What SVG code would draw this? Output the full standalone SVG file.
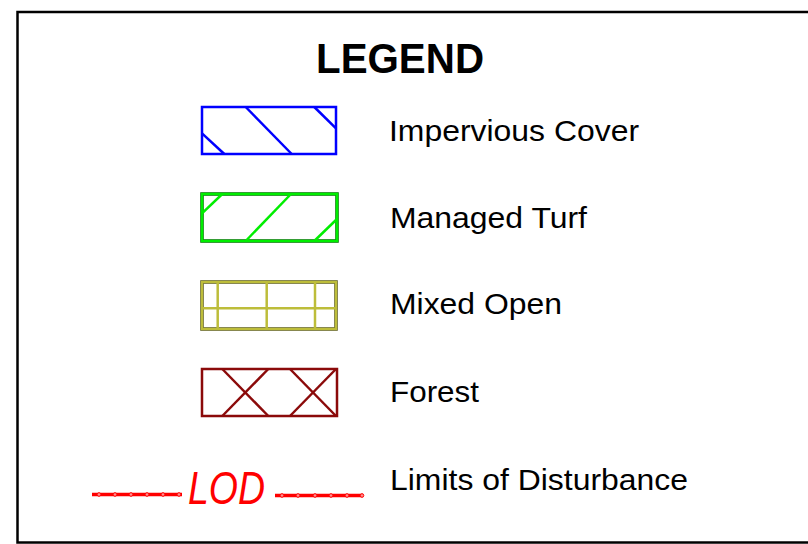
<svg xmlns="http://www.w3.org/2000/svg" width="808" height="544" viewBox="0 0 808 544">
<style>
.lbl{font-family:"Liberation Sans",Arial,sans-serif;font-size:30px;fill:#000}
.ttl{font-family:"Liberation Sans",Arial,sans-serif;font-size:43px;font-weight:bold;fill:#000}
.box{fill:#fff}
.imp{stroke:#0000ff;stroke-width:2.5;fill:none}
.turf{stroke:#00ee00;stroke-width:2.5;fill:none}
.mix{stroke:#bdbd3a;stroke-width:2.5;fill:none}
.for{stroke:#8b0a0a;stroke-width:2.5;fill:none}
.lod{stroke:#ff0000;stroke-width:3.5;fill:none}
.dot{stroke:#ff0000;stroke-width:1;fill:#ff9090}
</style>
<rect x="0" y="0" width="808" height="544" fill="#fff"/>
<rect x="17.5" y="12" width="800" height="530.5" fill="none" stroke="#000" stroke-width="2.5"/>
<text class="ttl" x="316" y="73" textLength="168" lengthAdjust="spacingAndGlyphs">LEGEND</text>

<g id="impervious">
<rect class="box imp" x="202" y="107" width="134" height="47"/>
<line class="imp" x1="245.7" y1="107" x2="291.7" y2="154"/>
<line class="imp" x1="314.3" y1="107" x2="336" y2="128.3"/>
<line class="imp" x1="202" y1="133.3" x2="224.3" y2="154"/>
<text class="lbl" x="389" y="141" textLength="250" lengthAdjust="spacingAndGlyphs">Impervious Cover</text>
</g>

<g id="turf">
<rect x="202" y="194" width="135" height="47" fill="none" stroke="#0a5a0a" stroke-width="3.5"/>
<rect class="box turf" x="202" y="194" width="135" height="47"/>
<line class="turf" x1="202" y1="213.3" x2="222.3" y2="194"/>
<line class="turf" x1="245.7" y1="241" x2="291" y2="194"/>
<line class="turf" x1="314.3" y1="241" x2="337" y2="219"/>
<text class="lbl" x="390" y="228" textLength="197" lengthAdjust="spacingAndGlyphs">Managed Turf</text>
</g>

<g id="mixed">
<rect x="202" y="282" width="134" height="47" fill="none" stroke="#4a4a20" stroke-width="3.5"/>
<rect class="box mix" x="202" y="282" width="134" height="47"/>
<line class="mix" x1="217.7" y1="282" x2="217.7" y2="329"/>
<line class="mix" x1="266.7" y1="282" x2="266.7" y2="329"/>
<line class="mix" x1="315" y1="282" x2="315" y2="329"/>
<line class="mix" x1="202" y1="308.3" x2="336" y2="308.3"/>
<text class="lbl" x="390" y="314" textLength="172" lengthAdjust="spacingAndGlyphs">Mixed Open</text>
</g>

<g id="forest">
<rect class="box for" x="202" y="369" width="135" height="47"/>
<line class="for" x1="222.3" y1="369" x2="268.3" y2="416"/>
<line class="for" x1="268.3" y1="369" x2="222.3" y2="416"/>
<line class="for" x1="290" y1="369" x2="336" y2="416"/>
<line class="for" x1="336" y1="369" x2="290" y2="416"/>
<text class="lbl" x="390" y="402" textLength="89" lengthAdjust="spacingAndGlyphs">Forest</text>
</g>

<g id="lod">
<line class="lod" x1="92" y1="494.5" x2="182" y2="494.5"/>
<line class="lod" x1="275" y1="495.5" x2="363" y2="495.5"/>
<g class="dot">
<circle cx="99" cy="494.5" r="1.8"/><circle cx="115" cy="494.5" r="1.8"/><circle cx="131" cy="494.5" r="1.8"/><circle cx="147" cy="494.5" r="1.8"/><circle cx="163" cy="494.5" r="1.8"/><circle cx="179" cy="494.5" r="1.8"/>
<circle cx="282" cy="495.5" r="1.8"/><circle cx="298" cy="495.5" r="1.8"/><circle cx="315" cy="495.5" r="1.8"/><circle cx="331" cy="495.5" r="1.8"/><circle cx="347" cy="495.5" r="1.8"/><circle cx="362" cy="495.5" r="1.8"/>
</g>
<text x="188" y="504" font-family="Liberation Sans,Arial,sans-serif" font-style="italic" font-size="46" fill="#ff0000" textLength="77" lengthAdjust="spacingAndGlyphs">LOD</text>
<text class="lbl" x="390" y="490" textLength="298" lengthAdjust="spacingAndGlyphs">Limits of Disturbance</text>
</g>
</svg>
